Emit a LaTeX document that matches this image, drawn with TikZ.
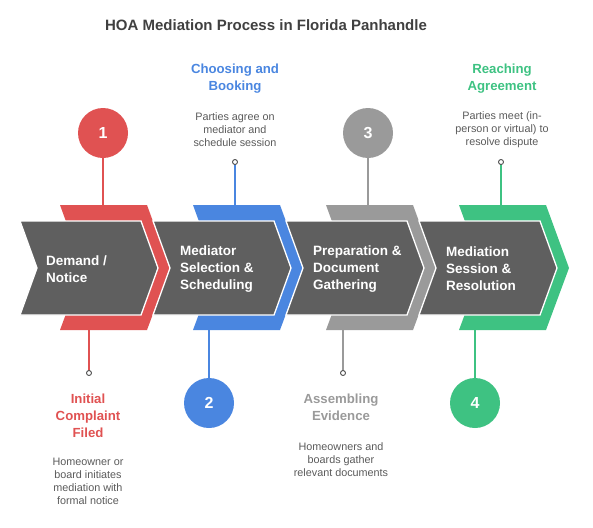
\documentclass[tikz,border=0pt]{standalone}
\usepackage{fontspec}
\setmainfont{Liberation Sans}
\usetikzlibrary{positioning}
\definecolor{hoared}{HTML}{E05252}
\definecolor{hoablue}{HTML}{4A86E0}
\definecolor{hoagray}{HTML}{9A9A9A}
\definecolor{hoagreen}{HTML}{3EC282}
\definecolor{chevgray}{HTML}{5F5F5F}
\definecolor{titlegray}{HTML}{404040}
\definecolor{descgray}{HTML}{5A5A5A}
\definecolor{pingray}{HTML}{505050}
\tikzset{
  chevdark/.style={fill=chevgray, draw=white, line width=1.3pt, line join=miter},
  chevtext/.style={text=white, font=\fontsize{13.5}{17}\selectfont\bfseries, align=left, anchor=west, inner sep=0pt},
  numcircle/.style={circle, minimum size=50pt, inner sep=0pt, text=white, font=\fontsize{16}{16}\selectfont\bfseries},
  pinhead/.style={circle, draw=pingray, fill=white, line width=0.9pt, minimum size=5pt, inner sep=0pt},
  steptitle/.style={font=\fontsize{13.2}{17}\selectfont\bfseries, align=center, inner sep=0pt},
  stepdesc/.style={text=descgray, font=\fontsize{10.8}{13}\selectfont, align=center, inner sep=0pt},
  stemline/.style={line width=1.2pt}
}
\begin{document}
\begin{tikzpicture}[x=1pt, y=-1pt]
  \useasboundingbox (0,0) rectangle (593,527);
  % Title
  \node[font=\fontsize{15}{15}\selectfont\bfseries, text=titlegray] (title) at (266,25.5) {HOA Mediation Process in Florida Panhandle};
  % Coloured chevrons behind
  \fill[hoared]   (60,205) -- (147,205) -- (170,268) -- (147,330) -- (60,330) -- (83,268) -- cycle;
  \fill[hoablue]  (193,205) -- (280,205) -- (303,268) -- (280,330) -- (193,330) -- (216,268) -- cycle;
  \fill[hoagray]  (326,205) -- (413,205) -- (436,268) -- (413,330) -- (326,330) -- (349,268) -- cycle;
  \fill[hoagreen] (459,205) -- (546,205) -- (569,268) -- (546,330) -- (459,330) -- (482,268) -- cycle;
  % Dark chevrons in front
  \filldraw[chevdark] (20,221) -- (141,221) -- (158,268) -- (141,315) -- (20,315) -- (37,268) -- cycle;
  \filldraw[chevdark] (153,221) -- (274,221) -- (291,268) -- (274,315) -- (153,315) -- (170,268) -- cycle;
  \filldraw[chevdark] (286,221) -- (407,221) -- (424,268) -- (407,315) -- (286,315) -- (303,268) -- cycle;
  \filldraw[chevdark] (419,221) -- (540,221) -- (557,268) -- (540,315) -- (419,315) -- (436,268) -- cycle;
  \node[chevtext] (s1) at (46,269.5) {Demand /\\Notice};
  \node[chevtext] (s2) at (180,269) {Mediator\\Selection \&\\Scheduling};
  \node[chevtext] (s3) at (313,269) {Preparation \&\\Document\\Gathering};
  \node[chevtext] (s4) at (446,269) {Mediation\\Session \&\\Resolution};
  % Ends of the stems on the chevrons
  \coordinate (t1) at (103,205);
  \coordinate (t2) at (235,205);
  \coordinate (t3) at (368,205);
  \coordinate (t4) at (501,205);
  \coordinate (b1) at (89,330);
  \coordinate (b2) at (209,330);
  \coordinate (b3) at (343,330);
  \coordinate (b4) at (475,330);
  % Number circles
  \node[numcircle, fill=hoared]   (n1) at (103,133) {1};
  \node[numcircle, fill=hoablue]  (n2) at (209,403) {2};
  \node[numcircle, fill=hoagray]  (n3) at (368,133) {3};
  \node[numcircle, fill=hoagreen] (n4) at (475,403) {4};
  \draw[stemline, hoared]   (n1) -- (t1);
  \draw[stemline, hoablue]  (n2) -- (b2);
  \draw[stemline, hoagray]  (n3) -- (t3);
  \draw[stemline, hoagreen] (n4) -- (b4);
  % Pins with labels
  \draw[stemline, hoared]   (b1) -- (89,371);
  \draw[stemline, hoablue]  (t2) -- (235,164);
  \draw[stemline, hoagray]  (b3) -- (343,371);
  \draw[stemline, hoagreen] (t4) -- (501,164);
  \node[pinhead] (p1) at (89,373) {};
  \node[pinhead] (p2) at (235,162) {};
  \node[pinhead] (p3) at (343,373) {};
  \node[pinhead] (p4) at (501,162) {};
  \node[steptitle, text=hoared]   (h1) at (88,416) {Initial\\Complaint\\Filed};
  \node[stepdesc]                 (d1) at (88,481) {Homeowner or\\board initiates\\mediation with\\formal notice};
  \node[steptitle, text=hoablue]  (h2) at (235,79) {Choosing and\\Booking};
  \node[stepdesc]                 (d2) at (235,130) {Parties agree on\\mediator and\\schedule session};
  \node[steptitle, text=hoagray]  (h3) at (341,407) {Assembling\\Evidence};
  \node[stepdesc]                 (d3) at (341,460) {Homeowners and\\boards gather\\relevant documents};
  \node[steptitle, text=hoagreen] (h4) at (502,79) {Reaching\\Agreement};
  \node[stepdesc]                 (d4) at (502,130) {Parties meet (in-\\person or virtual) to\\resolve dispute};
\end{tikzpicture}
\end{document}
